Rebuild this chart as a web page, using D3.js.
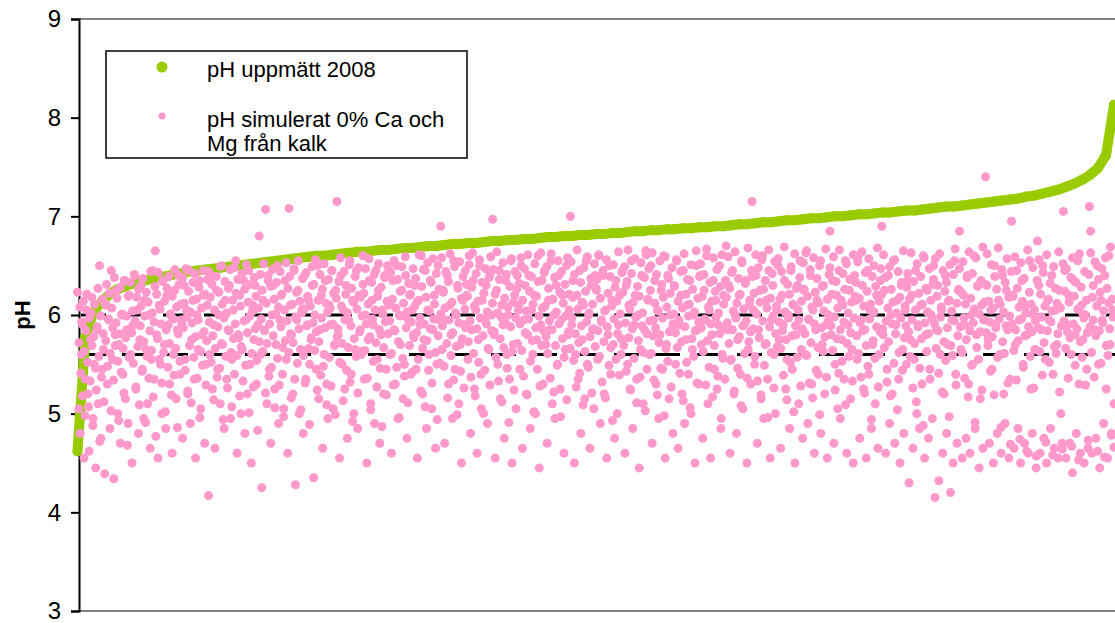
<!DOCTYPE html>
<html>
<head>
    <meta charset="utf-8">
    <title>pH uppmätt och simulerat</title>
    <script src="https://d3js.org/d3.v7.min.js"></script>
    <style>
        body { margin: 0; padding: 0; background: #fff; }
        text { font-family: "Liberation Sans", Arial, sans-serif; fill: #000; }
    </style>
</head>
<body>
    <svg id="svg" width="1115" height="623"></svg>

    <script>
        // Axis and reference values.
        const yTicks = [3, 4, 5, 6, 7, 8, 9];
        const refLines = [6.0, 5.6];
        const legendLabels = ["pH uppmätt 2008", "pH simulerat 0% Ca och", "Mg från kalk"];

        const greenPH = [
            4.62, 5.78, 6.03, 6.13, 6.21, 6.26, 6.29, 6.32, 6.34, 6.36,
            6.38, 6.39, 6.41, 6.42, 6.44, 6.45, 6.46, 6.47, 6.48, 6.49,
            6.50, 6.51, 6.52, 6.53, 6.54, 6.55, 6.56, 6.57, 6.58, 6.59,
            6.60, 6.60, 6.61, 6.62, 6.63, 6.64, 6.64, 6.65, 6.66, 6.66,
            6.67, 6.68, 6.68, 6.69, 6.70, 6.70, 6.71, 6.72, 6.72, 6.73,
            6.73, 6.74, 6.75, 6.75, 6.76, 6.76, 6.77, 6.77, 6.78, 6.79,
            6.79, 6.80, 6.80, 6.81, 6.81, 6.82, 6.82, 6.83, 6.83, 6.84,
            6.85, 6.85, 6.86, 6.86, 6.87, 6.87, 6.88, 6.88, 6.89, 6.89,
            6.90, 6.90, 6.91, 6.92, 6.92, 6.93, 6.94, 6.94, 6.95, 6.96,
            6.96, 6.97, 6.98, 6.98, 6.99, 7.00, 7.00, 7.01, 7.02, 7.02,
            7.03, 7.04, 7.04, 7.05, 7.06, 7.06, 7.07, 7.08, 7.09, 7.10,
            7.10, 7.11, 7.12, 7.13, 7.14, 7.15, 7.16, 7.17, 7.18, 7.20,
            7.21, 7.23, 7.25, 7.27, 7.30, 7.33, 7.37, 7.42, 7.49, 7.62,
            8.13
        ];

        // Simulated pH, site order left to right: the spread-out points.
        const pinkWide = [
            6.23, 5.05, 4.80, 5.60, 5.90, 4.55, 5.35, 6.05, 5.20, 4.62, 5.75, 6.18, 4.95, 5.50, 4.45, 5.85, 5.10, 6.50, 4.75, 5.45,
            5.65, 4.39, 6.10, 5.30, 5.95, 4.85, 6.45, 5.55, 4.34, 5.80, 6.25, 5.00, 5.70, 4.70, 6.00, 5.40, 6.35, 5.15, 5.85, 4.90,
            6.20, 5.60, 4.50, 5.90, 6.40, 5.25, 6.05, 4.80, 5.75, 6.30, 5.45, 4.95, 6.15, 5.65, 5.10, 6.00, 4.65, 5.55, 6.45, 5.35,
            6.65, 5.80, 4.55, 6.10, 5.50, 5.00, 6.35, 5.70, 4.85, 6.20, 5.90, 5.30, 6.00, 4.60, 5.60, 6.25, 5.15, 5.85, 6.40, 5.40,
            5.95, 4.75, 6.30, 5.55, 6.05, 5.20, 6.45, 4.90, 5.75, 6.15, 5.35, 4.55, 6.00, 5.65, 6.35, 5.05, 5.80, 6.20, 4.70, 5.50,
            6.10, 4.17, 5.60, 6.40, 5.25, 5.90, 4.65, 6.25, 5.45, 6.00, 5.10, 6.50, 5.70, 4.85, 6.15, 5.35, 5.85, 6.30, 4.95, 5.55,
            6.05, 5.40, 6.55, 4.60, 5.80, 6.20, 5.00, 5.65, 6.35, 4.80, 5.95, 5.20, 6.45, 5.50, 4.50, 6.10, 5.75, 6.30, 5.30, 5.90,
            6.80, 5.60, 4.25, 6.15, 5.85, 7.07, 5.10, 6.40, 5.45, 4.70, 6.00, 6.30, 5.25, 5.70, 6.50, 4.90, 5.95, 6.20, 5.40, 5.05,
            6.35, 5.55, 4.60, 7.08, 6.10, 5.80, 5.20, 6.45, 4.28, 5.95, 6.25, 5.00, 5.65, 6.05, 4.80, 6.40, 5.35, 5.90, 6.15, 5.50,
            5.75, 6.30, 4.35, 6.00, 5.45, 6.50, 5.15, 5.85, 6.20, 4.65, 5.60, 6.35, 5.30, 4.95, 6.10, 5.90, 6.45, 5.05, 5.70, 6.25,
            7.15, 5.80, 4.55, 6.40, 5.50, 6.05, 5.25, 6.30, 4.75, 5.95, 6.55, 5.40, 6.15, 5.00, 5.65, 6.45, 4.85, 6.20, 5.85, 5.60,
            6.60, 5.35, 6.00, 4.50, 5.75, 6.35, 5.10, 6.15, 5.90, 4.90, 6.45, 5.55, 6.25, 4.70, 5.80, 6.05, 5.20, 6.40, 5.45, 6.50,
            6.10, 5.60, 4.60, 6.35, 5.85, 5.30, 6.50, 4.95, 6.00, 5.70, 6.25, 5.15, 5.50, 6.40, 4.75, 5.95, 6.20, 5.40, 6.05, 5.80,
            6.30, 5.45, 4.55, 6.15, 5.90, 6.60, 5.20, 5.75, 6.45, 4.85, 6.05, 5.60, 6.35, 5.05, 5.85, 6.20, 4.65, 5.50, 6.50, 5.95,
            6.90, 5.65, 6.25, 4.70, 5.95, 6.40, 5.30, 6.10, 5.80, 4.95, 6.55, 5.45, 6.00, 6.30, 5.10, 5.70, 4.50, 6.15, 5.90, 6.45,
            6.20, 5.55, 6.60, 4.80, 5.85, 6.35, 5.25, 6.05, 4.60, 5.75, 6.50, 5.40, 6.15, 5.00, 5.95, 6.30, 4.90, 5.65, 6.40, 6.00,
            6.97, 5.80, 4.55, 6.25, 5.50, 6.45, 5.15, 6.10, 5.90, 4.75, 6.35, 5.60, 6.00, 5.35, 6.55, 4.50, 5.70, 6.20, 5.05, 6.40,
            6.10, 5.45, 6.50, 4.65, 5.95, 6.30, 5.20, 5.80, 6.40, 4.85, 6.05, 5.60, 6.20, 5.00, 5.75, 6.60, 4.45, 5.90, 6.35, 5.30,
            6.45, 5.70, 4.70, 6.15, 5.85, 6.55, 5.10, 6.00, 4.95, 6.30, 5.50, 6.40, 5.25, 5.95, 6.20, 4.60, 5.65, 6.50, 5.80, 6.05,
            7.00, 5.90, 6.35, 4.50, 5.60, 6.20, 5.35, 6.45, 4.80, 5.75, 6.10, 5.15, 6.55, 5.50, 6.00, 4.65, 6.30, 5.85, 5.05, 6.40,
            6.25, 5.55, 6.60, 4.90, 5.95, 6.40, 5.20, 6.05, 4.55, 5.80, 6.50, 5.40, 6.15, 5.70, 4.75, 6.35, 5.00, 5.90, 6.20, 5.60,
            6.45, 5.75, 4.60, 6.30, 5.50, 6.10, 5.25, 6.55, 4.85, 5.90, 6.20, 5.35, 6.00, 4.45, 5.65, 6.40, 5.10, 5.85, 6.65, 5.45,
            6.15, 5.60, 6.50, 4.70, 5.95, 6.35, 5.30, 6.05, 4.95, 5.80, 6.25, 5.45, 6.60, 4.55, 5.70, 6.40, 5.15, 6.00, 5.85, 4.80,
            6.30, 5.50, 6.55, 4.65, 5.90, 6.20, 5.20, 6.45, 4.90, 5.75, 6.10, 5.40, 6.35, 5.00, 5.65, 6.00, 4.50, 6.50, 5.85, 5.30,
            6.40, 5.70, 4.75, 6.25, 5.95, 6.60, 5.10, 6.05, 4.55, 5.80, 6.35, 5.45, 6.15, 5.25, 5.90, 6.50, 4.85, 5.60, 6.20, 5.35,
            6.70, 5.85, 6.30, 4.60, 5.55, 6.45, 5.20, 6.00, 4.80, 5.75, 6.20, 5.40, 6.55, 5.05, 5.90, 6.35, 4.50, 5.65, 6.10, 5.30,
            7.15, 6.05, 5.50, 6.40, 4.70, 5.85, 6.25, 5.15, 6.60, 4.95, 5.70, 6.15, 5.35, 6.45, 4.55, 5.95, 6.30, 5.60, 5.00, 6.05,
            6.50, 5.75, 4.65, 6.20, 5.90, 6.35, 5.25, 5.55, 6.00, 4.85, 6.45, 5.45, 6.10, 4.50, 5.80, 6.30, 5.10, 6.55, 5.65, 4.75,
            6.25, 5.60, 6.65, 4.90, 5.95, 6.40, 5.30, 6.05, 4.60, 5.85, 6.15, 5.40, 6.50, 4.80, 5.70, 6.30, 5.20, 5.90, 4.55, 6.00,
            6.85, 5.80, 6.35, 4.70, 5.50, 6.20, 5.05, 6.45, 4.95, 5.75, 6.10, 5.35, 6.55, 4.60, 5.90, 6.25, 5.15, 5.65, 4.50, 6.40,
            6.15, 5.55, 6.60, 4.75, 5.95, 6.30, 5.25, 5.85, 4.55, 6.45, 5.40, 6.05, 4.85, 5.70, 6.50, 5.10, 6.20, 4.65, 5.60, 6.35,
            6.90, 5.80, 6.25, 4.60, 5.45, 6.40, 4.90, 6.00, 5.20, 6.55, 4.70, 5.90, 6.15, 5.35, 4.50, 6.30, 5.65, 4.80, 6.05, 5.50,
            6.35, 4.30, 5.75, 6.20, 4.65, 5.55, 6.45, 5.00, 5.90, 4.85, 6.10, 5.30, 6.60, 4.55, 5.80, 6.25, 4.75, 5.45, 6.00, 4.95,
            6.50, 4.15, 5.85, 6.30, 4.32, 5.60, 6.05, 4.60, 5.20, 6.40, 4.80, 5.70, 6.15, 4.20, 5.95, 4.50, 6.55, 5.40, 4.70, 6.25,
            6.85, 5.65, 4.55, 6.20, 5.90, 4.75, 6.40, 5.30, 4.60, 6.00, 5.50, 6.60, 4.85, 5.80, 6.30, 4.45, 5.15, 6.10, 4.65, 5.95,
            7.40, 6.30, 5.75, 4.70, 6.05, 5.45, 4.50, 6.50, 5.90, 4.80, 6.15, 5.60, 4.60, 6.40, 5.20, 4.90, 6.25, 5.85, 4.55, 5.35,
            6.95, 6.20, 4.65, 5.70, 6.45, 4.85, 5.95, 4.50, 6.35, 5.50, 4.70, 6.10, 5.80, 4.60, 6.55, 5.25, 4.80, 6.00, 5.65, 4.45,
            6.75, 6.30, 4.60, 5.85, 6.50, 4.75, 5.55, 4.50, 6.15, 5.95, 4.85, 6.40, 5.40, 4.65, 6.05, 5.70, 4.55, 6.25, 5.00, 4.70,
            7.05, 6.45, 4.55, 5.90, 6.20, 4.70, 5.60, 4.40, 6.35, 5.80, 4.80, 6.55, 5.30, 4.60, 6.10, 5.75, 4.50, 6.00, 5.45, 4.65,
            7.10, 6.85, 4.60, 6.30, 5.85, 4.75, 6.50, 5.50, 4.45, 6.15, 5.95, 4.90, 6.40, 5.25, 4.55, 6.60, 5.70, 4.80, 6.05, 5.10
        ];

        // Simulated pH, site order left to right: the dense core band.
        const pinkCore = [
            5.72, 6.08, 5.41, 5.93, 5.18, 6.14, 5.63, 4.98, 5.84, 6.21, 5.52, 5.07, 5.97, 5.33, 6.02, 5.69, 4.88, 5.78, 6.11, 5.46, 5.24, 5.88, 6.27, 5.58, 4.72, 5.99, 5.37, 6.16, 5.81, 5.12,
            6.12, 5.74, 6.31, 5.48, 5.96, 6.22, 5.61, 5.03, 6.07, 5.87, 5.34, 6.38, 5.69, 5.92, 6.17, 5.53, 4.93, 5.81, 6.28, 5.42, 6.01, 5.66, 5.21, 6.35, 5.77, 5.99, 4.68, 6.19, 5.57, 5.86,
            6.33, 5.82, 6.04, 5.51, 6.41, 5.94, 5.27, 6.18, 5.68, 6.26, 5.09, 5.89, 6.09, 5.43, 6.37, 5.73, 5.99, 4.91, 6.23, 5.58, 6.13, 5.36, 5.84, 6.44, 5.64, 6.02, 5.17, 5.93, 6.29, 4.77,
            6.21, 5.76, 6.43, 5.55, 6.06, 5.91, 5.31, 6.34, 5.62, 6.14, 5.02, 5.85, 6.27, 5.47, 6.39, 5.71, 6.01, 5.19, 6.19, 5.96, 5.39, 6.46, 5.66, 6.08, 4.86, 5.81, 6.31, 5.53, 6.11, 5.92,
            6.38, 5.87, 6.12, 5.44, 6.47, 5.98, 5.23, 6.24, 5.69, 6.03, 5.11, 5.92, 6.33, 5.57, 6.42, 5.78, 6.16, 5.36, 5.95, 6.28, 4.96, 5.63, 6.07, 5.49, 6.45, 5.83, 6.21, 5.29, 5.74, 6.36,
            6.44, 5.93, 6.18, 5.52, 6.31, 5.79, 5.14, 6.05, 5.66, 6.39, 5.37, 5.88, 6.23, 5.46, 6.49, 5.71, 6.11, 4.94, 5.97, 6.34, 5.58, 6.02, 5.26, 6.27, 5.84, 6.46, 5.62, 5.07, 6.15, 5.76,
            6.48, 5.91, 6.22, 5.59, 6.36, 5.77, 5.18, 6.09, 5.68, 6.42, 5.33, 5.94, 6.26, 5.49, 6.51, 5.82, 6.13, 5.01, 5.99, 6.31, 5.61, 6.04, 5.27, 6.38, 5.86, 6.19, 5.54, 4.83, 6.07, 5.73,
            6.41, 5.96, 6.25, 5.63, 6.52, 5.84, 5.21, 6.12, 5.71, 6.35, 5.38, 5.91, 6.29, 5.47, 6.46, 5.79, 6.16, 5.06, 6.01, 6.33, 5.56, 6.08, 5.29, 6.44, 5.88, 6.21, 5.67, 4.97, 6.05, 5.74,
            6.53, 5.94, 6.27, 5.62, 6.39, 5.81, 5.16, 6.11, 5.72, 6.47, 5.35, 5.98, 6.23, 5.51, 6.55, 5.86, 6.14, 5.04, 6.02, 6.37, 5.59, 6.06, 5.31, 6.43, 5.89, 6.19, 5.66, 4.89, 6.09, 5.77,
            6.49, 5.92, 6.31, 5.64, 6.56, 5.83, 5.24, 6.15, 5.73, 6.41, 5.39, 5.97, 6.26, 5.48, 6.52, 5.87, 6.12, 5.09, 6.03, 6.36, 5.57, 6.07, 5.28, 6.45, 5.91, 6.22, 5.69, 4.99, 6.17, 5.78,
            5.86, 6.34, 5.52, 6.58, 6.09, 5.71, 5.13, 6.44, 5.95, 6.21, 5.44, 6.02, 5.67, 6.51, 5.32, 5.89, 6.27, 4.92, 6.13, 5.76, 6.39, 5.58, 6.06, 5.21, 6.48, 5.83, 6.18, 5.63, 5.99, 6.31,
            6.22, 5.64, 6.47, 5.91, 5.36, 6.11, 6.57, 5.78, 5.04, 6.33, 5.96, 5.53, 6.41, 6.05, 5.72, 5.27, 6.19, 6.52, 5.85, 5.46, 6.28, 4.87, 6.01, 5.67, 6.38, 5.93, 5.19, 6.14, 5.81, 6.45,
            5.94, 6.43, 5.61, 6.16, 5.29, 6.55, 5.84, 6.07, 5.47, 6.36, 5.73, 4.96, 6.24, 5.99, 6.49, 5.56, 6.12, 5.38, 6.59, 5.87, 6.03, 5.11, 6.32, 5.69, 6.21, 5.93, 5.42, 6.47, 5.77, 6.09,
            6.37, 5.82, 6.14, 5.55, 6.61, 5.97, 5.23, 6.29, 5.66, 6.46, 5.91, 5.07, 6.18, 5.74, 6.53, 5.44, 6.04, 5.86, 6.33, 5.31, 6.57, 5.96, 6.11, 5.62, 6.42, 4.94, 5.79, 6.26, 5.51, 6.01,
            6.58, 5.89, 6.23, 5.48, 6.07, 6.44, 5.71, 5.16, 6.34, 5.95, 6.62, 5.59, 6.13, 5.82, 5.34, 6.49, 6.02, 5.68, 4.99, 6.27, 5.92, 6.54, 5.43, 6.17, 5.76, 6.39, 5.26, 6.06, 5.87, 6.31,
            6.19, 5.73, 6.51, 5.94, 5.37, 6.28, 6.63, 5.61, 6.09, 5.18, 6.42, 5.86, 6.14, 5.52, 6.56, 5.97, 5.05, 6.33, 5.79, 6.22, 5.44, 6.47, 5.91, 6.03, 5.66, 6.38, 5.29, 6.59, 5.84, 6.12,
            6.46, 5.83, 6.21, 5.57, 6.64, 6.02, 5.33, 6.36, 5.76, 5.98, 5.12, 6.53, 5.67, 6.17, 5.92, 6.41, 5.46, 6.08, 4.91, 6.29, 5.88, 6.57, 5.63, 6.13, 5.24, 6.44, 5.97, 6.26, 5.71, 6.05,
            6.32, 5.91, 6.58, 5.64, 6.15, 5.38, 6.47, 5.82, 6.04, 5.19, 6.61, 5.96, 6.24, 5.53, 6.39, 5.74, 6.11, 5.02, 6.52, 5.87, 6.19, 5.45, 6.34, 5.99, 5.28, 6.63, 5.69, 6.07, 5.84, 6.43,
            6.09, 5.78, 6.49, 5.61, 6.27, 5.94, 5.36, 6.62, 5.85, 6.16, 5.22, 6.38, 5.69, 6.03, 5.49, 6.55, 5.91, 6.23, 4.97, 6.44, 5.76, 6.12, 5.57, 6.31, 5.99, 5.14, 6.58, 5.83, 6.21, 5.66,
            6.54, 5.97, 6.18, 5.54, 6.41, 5.81, 5.27, 6.66, 6.06, 5.72, 5.41, 6.33, 5.89, 6.13, 5.09, 6.48, 5.63, 6.24, 5.93, 6.59, 5.47, 6.02, 5.78, 6.37, 5.21, 6.11, 5.86, 6.52, 5.68, 6.27,
            6.36, 5.84, 6.61, 5.58, 6.17, 5.93, 5.32, 6.45, 5.73, 6.04, 5.16, 6.56, 5.88, 6.22, 5.49, 6.39, 5.67, 6.09, 4.93, 6.51, 5.96, 6.28, 5.55, 6.14, 5.81, 6.64, 5.39, 6.01, 5.76, 6.43,
            6.23, 5.69, 6.49, 5.92, 5.43, 6.34, 6.66, 5.77, 6.06, 5.24, 6.42, 5.86, 6.13, 5.56, 6.57, 5.98, 5.11, 6.29, 5.74, 6.19, 5.37, 6.53, 5.89, 6.02, 5.62, 6.38, 5.03, 6.61, 5.81, 6.16,
            6.47, 5.94, 6.25, 5.61, 6.63, 5.79, 5.34, 6.12, 5.87, 6.41, 5.19, 6.04, 5.72, 6.55, 5.46, 6.31, 5.97, 6.18, 4.98, 6.59, 5.66, 6.08, 5.53, 6.37, 5.83, 6.22, 5.27, 6.48, 5.91, 6.01,
            6.29, 5.82, 6.56, 5.67, 6.14, 5.95, 5.41, 6.44, 5.73, 6.07, 5.13, 6.62, 5.88, 6.21, 5.52, 6.36, 5.99, 6.11, 5.06, 6.51, 5.76, 6.26, 5.58, 6.03, 5.84, 6.65, 5.31, 6.17, 5.93, 6.39,
            6.52, 5.87, 6.19, 5.63, 6.41, 5.96, 5.29, 6.67, 5.74, 6.08, 5.47, 6.33, 5.91, 6.14, 5.17, 6.58, 5.69, 6.24, 5.98, 6.46, 5.38, 6.02, 5.81, 6.29, 4.95, 6.61, 5.56, 6.11, 5.86, 6.35,
            6.18, 5.92, 6.59, 5.71, 6.27, 5.54, 6.43, 5.85, 6.04, 5.23, 6.64, 5.97, 6.12, 5.46, 6.37, 5.78, 6.21, 5.08, 6.53, 5.89, 6.06, 5.61, 6.32, 5.94, 5.36, 6.68, 5.73, 6.15, 5.83, 6.45,
            6.39, 5.86, 6.22, 5.58, 6.61, 6.01, 5.33, 6.48, 5.77, 6.13, 5.19, 6.56, 5.94, 6.26, 5.49, 6.35, 5.71, 6.07, 4.96, 6.66, 5.88, 6.17, 5.62, 6.42, 5.99, 5.26, 6.54, 5.81, 6.09, 5.68,
            6.57, 5.93, 6.16, 5.66, 6.44, 5.84, 5.39, 6.69, 6.03, 5.75, 5.14, 6.31, 5.97, 6.21, 5.52, 6.49, 5.79, 6.11, 5.02, 6.62, 5.89, 6.27, 5.57, 6.05, 5.95, 6.38, 5.28, 6.14, 5.86, 6.53,
            6.26, 5.81, 6.63, 5.59, 6.19, 5.96, 5.31, 6.46, 5.72, 6.08, 5.16, 6.58, 5.91, 6.23, 5.44, 6.37, 5.67, 6.12, 4.99, 6.55, 5.87, 6.29, 5.63, 6.04, 5.78, 6.67, 5.37, 6.16, 5.94, 6.41,
            6.48, 5.89, 6.21, 5.64, 6.59, 5.98, 5.24, 6.34, 5.76, 6.07, 5.41, 6.66, 5.85, 6.15, 5.53, 6.42, 5.93, 6.26, 5.09, 6.52, 5.71, 6.02, 5.58, 6.36, 5.82, 6.13, 5.33, 6.61, 5.97, 6.19,
            6.33, 5.79, 6.54, 5.61, 6.17, 5.92, 5.37, 6.64, 5.84, 6.09, 5.21, 6.43, 5.69, 6.24, 5.48, 6.57, 5.96, 6.11, 4.94, 6.39, 5.74, 6.03, 5.56, 6.29, 5.88, 6.68, 5.27, 6.14, 5.83, 6.47,
            6.21, 5.86, 6.61, 5.67, 6.38, 5.94, 5.32, 6.07, 5.73, 6.49, 5.18, 6.26, 5.91, 6.13, 5.51, 6.56, 5.81, 6.02, 5.04, 6.44, 5.62, 6.18, 5.97, 6.33, 5.44, 6.65, 5.77, 6.09, 5.89, 6.28,
            6.42, 5.83, 6.16, 5.58, 6.63, 5.95, 5.26, 6.34, 5.71, 6.05, 5.12, 6.52, 5.88, 6.22, 5.46, 6.39, 5.76, 6.11, 4.88, 6.58, 5.92, 6.27, 5.63, 6.03, 5.81, 6.47, 5.35, 6.15, 5.97, 6.31,
            6.36, 5.91, 6.57, 5.66, 6.19, 5.84, 5.41, 6.62, 5.98, 6.08, 5.22, 6.45, 5.73, 6.24, 5.54, 6.33, 5.87, 6.14, 4.97, 6.51, 5.69, 6.04, 5.59, 6.41, 5.94, 6.67, 5.29, 6.12, 5.79, 6.26,
            6.47, 5.88, 6.23, 5.62, 6.54, 5.97, 5.36, 6.11, 5.75, 6.38, 5.17, 6.64, 5.84, 6.17, 5.49, 6.42, 5.92, 6.06, 4.91, 6.58, 5.67, 6.29, 5.55, 6.01, 5.83, 6.35, 5.24, 6.69, 5.95, 6.13,
            6.31, 5.82, 6.62, 5.69, 6.14, 5.93, 5.43, 6.51, 5.78, 6.07, 5.19, 6.39, 5.87, 6.26, 5.57, 6.68, 5.96, 6.11, 4.86, 6.46, 5.73, 6.03, 5.61, 6.33, 5.89, 6.57, 5.31, 6.18, 5.99, 4.69,
            6.44, 5.91, 6.19, 5.64, 6.59, 5.85, 5.34, 6.27, 5.74, 6.08, 4.74, 6.53, 5.96, 6.14, 5.47, 6.37, 5.79, 6.02, 4.62, 6.66, 5.88, 6.23, 5.58, 6.11, 5.83, 6.48, 5.26, 6.05, 5.94, 4.57,
            6.35, 5.87, 6.56, 5.63, 6.21, 5.98, 5.39, 6.43, 5.72, 6.09, 4.71, 6.61, 5.84, 6.16, 5.52, 6.32, 5.93, 6.04, 4.58, 6.49, 5.68, 6.27, 5.61, 6.12, 5.81, 6.64, 5.22, 6.07, 5.89, 4.64,
            6.52, 5.94, 6.24, 5.66, 6.47, 5.83, 5.36, 6.13, 5.77, 6.38, 4.67, 6.58, 5.91, 6.19, 5.49, 6.33, 5.86, 6.06, 4.53, 6.62, 5.73, 6.28, 5.57, 6.01, 5.97, 6.44, 5.29, 6.15, 5.82, 4.73,
            6.41, 5.88, 6.63, 5.62, 6.18, 5.95, 5.37, 6.54, 5.79, 6.09, 4.62, 6.36, 5.84, 6.23, 5.51, 6.47, 5.92, 6.04, 4.56, 6.58, 5.69, 6.27, 5.59, 6.12, 5.86, 6.69, 4.78, 6.16, 5.98, 4.66
        ];

        const svg = d3.select("#svg");
        const W = 1115, H = 623;
        const plot = { left: 79, top: 19, right: 1115, bottom: 611 };

        const y = d3.scaleLinear().domain([3, 9]).range([plot.bottom, plot.top]);
        const xGreen = d3.scaleLinear().domain([0, greenPH.length - 1]).range([77.5, 1114]);
        const xWide = d3.scaleLinear().domain([0, pinkWide.length - 1]).range([77.5, 1114]);
        const xCore = d3.scaleLinear().domain([0, pinkCore.length - 1]).range([79, 1114]);

        svg.append("rect").attr("width", W).attr("height", H).attr("fill", "#fff");

        // Top and bottom frame lines.
        svg.append("g").selectAll("line")
            .data([9, 3])
            .join("line")
                .attr("x1", plot.left).attr("x2", plot.right)
                .attr("y1", d => y(d)).attr("y2", d => y(d))
                .attr("stroke", "#808080")
                .attr("stroke-width", 2);

        // Y axis.
        const yAxis = svg.append("g")
            .attr("transform", `translate(${plot.left},0)`)
            .call(d3.axisLeft(y).tickValues(yTicks).tickFormat(d3.format("d")).tickSize(8).tickPadding(10));
        yAxis.select(".domain").attr("stroke", "#000").attr("stroke-width", 2);
        yAxis.selectAll(".tick line").attr("stroke", "#000").attr("stroke-width", 2);
        yAxis.selectAll(".tick text")
            .attr("font-family", "Liberation Sans, Arial, sans-serif")
            .attr("font-size", 24)
            .attr("fill", "#000");

        svg.append("text")
            .attr("transform", `translate(30,${y(6)}) rotate(-90)`)
            .attr("text-anchor", "middle")
            .attr("font-size", 22)
            .attr("font-weight", "bold")
            .text("pH");

        // Dashed reference lines at 6.0 and 5.6.
        svg.append("g").selectAll("line")
            .data(refLines)
            .join("line")
                .attr("x1", plot.left + 2).attr("x2", plot.right)
                .attr("y1", d => y(d)).attr("y2", d => y(d))
                .attr("stroke", "#000")
                .attr("stroke-width", 3)
                .attr("stroke-dasharray", "25,16");

        // Measured pH curve.
        const green = svg.append("g");
        green.append("path")
            .datum(greenPH)
            .attr("d", d3.line().x((d, i) => xGreen(i)).y(d => y(d)))
            .attr("fill", "none")
            .attr("stroke", "#99cc00")
            .attr("stroke-width", 10)
            .attr("stroke-linecap", "round")
            .attr("stroke-linejoin", "round");
        green.selectAll("circle")
            .data(greenPH)
            .join("circle")
                .attr("cx", (d, i) => xGreen(i))
                .attr("cy", d => y(d))
                .attr("r", 5)
                .attr("fill", "#99cc00");

        // Simulated pH points.
        const pink = svg.append("g").attr("fill", "#ff99cc");
        pink.selectAll("circle.core")
            .data(pinkCore)
            .join("circle")
                .attr("class", "core")
                .attr("cx", (d, i) => xCore(i))
                .attr("cy", d => y(d))
                .attr("r", 4.5);
        pink.selectAll("circle.wide")
            .data(pinkWide)
            .join("circle")
                .attr("class", "wide")
                .attr("cx", (d, i) => xWide(i))
                .attr("cy", d => y(d))
                .attr("r", 4.5);

        // Legend.
        const legend = svg.append("g");
        legend.append("rect")
            .attr("x", 106).attr("y", 51)
            .attr("width", 361).attr("height", 107)
            .attr("fill", "#fff")
            .attr("stroke", "#000")
            .attr("stroke-width", 1.5);
        legend.append("circle").attr("cx", 162).attr("cy", 67).attr("r", 5.5).attr("fill", "#99cc00");
        legend.append("circle").attr("cx", 162).attr("cy", 116).attr("r", 3.5).attr("fill", "#ff99cc");
        legend.selectAll("text")
            .data(legendLabels)
            .join("text")
                .attr("x", 207)
                .attr("y", (d, i) => [77, 127, 151][i])
                .attr("font-size", 22)
                .text(d => d);
    </script>
</body>
</html>
